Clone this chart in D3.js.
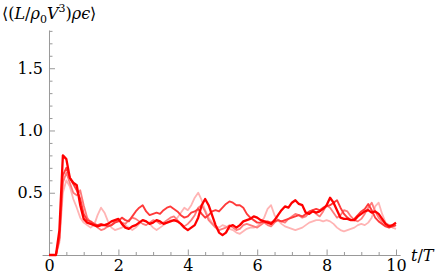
<!DOCTYPE html>
<html>
<head>
<meta charset="utf-8">
<script src="https://cdn.jsdelivr.net/npm/d3@7"></script>
<style>
  body { margin: 0; background: #fff; }
</style>
</head>
<body>
<div id="chart"></div>
<script>
// time samples t/T, step 0.1 from 0 to 10
const times = d3.range(0, 101).map(i => i / 10);

// four runs, brightest first
const runA = [0,0,0,0.20,0.80,0.77,0.62,0.58,0.56,0.40,
  0.29,0.26,0.25,0.24,0.23,0.24,0.24,0.25,0.27,0.28,
  0.29,0.25,0.22,0.21,0.23,0.24,0.26,0.28,0.27,0.25,
  0.26,0.28,0.27,0.25,0.26,0.27,0.28,0.27,0.25,0.22,
  0.20,0.22,0.24,0.30,0.40,0.45,0.40,0.32,0.24,0.18,
  0.16,0.18,0.23,0.24,0.22,0.24,0.27,0.28,0.29,0.31,
  0.30,0.28,0.27,0.26,0.25,0.28,0.32,0.36,0.39,0.38,
  0.42,0.44,0.41,0.40,0.34,0.33,0.35,0.34,0.35,0.37,
  0.40,0.46,0.42,0.36,0.30,0.29,0.29,0.28,0.28,0.31,
  0.33,0.35,0.36,0.34,0.35,0.33,0.29,0.25,0.23,0.24,0.26];
const runB = [0,0,0,0.14,0.64,0.70,0.62,0.57,0.52,0.45,
  0.33,0.28,0.27,0.25,0.24,0.25,0.24,0.23,0.24,0.26,
  0.27,0.30,0.28,0.27,0.31,0.35,0.38,0.40,0.35,0.32,
  0.33,0.34,0.33,0.36,0.38,0.39,0.37,0.35,0.32,0.30,
  0.31,0.34,0.35,0.37,0.33,0.30,0.32,0.35,0.36,0.35,
  0.38,0.41,0.43,0.42,0.40,0.40,0.38,0.33,0.30,0.28,
  0.26,0.26,0.27,0.27,0.26,0.27,0.28,0.27,0.28,0.29,
  0.30,0.31,0.32,0.31,0.33,0.35,0.36,0.37,0.36,0.38,
  0.39,0.40,0.42,0.44,0.38,0.33,0.30,0.28,0.29,0.32,
  0.35,0.37,0.41,0.36,0.30,0.27,0.25,0.23,0.22,0.23,0.24];
const runC = [0,0,0,0.12,0.58,0.66,0.58,0.50,0.48,0.52,
  0.40,0.30,0.26,0.24,0.22,0.20,0.21,0.23,0.24,0.27,
  0.28,0.26,0.25,0.28,0.30,0.29,0.27,0.25,0.24,0.26,
  0.28,0.27,0.25,0.26,0.28,0.30,0.31,0.28,0.25,0.23,
  0.25,0.28,0.32,0.38,0.40,0.35,0.28,0.25,0.22,0.20,
  0.21,0.22,0.24,0.22,0.20,0.21,0.24,0.25,0.24,0.23,
  0.22,0.24,0.26,0.24,0.23,0.26,0.28,0.27,0.26,0.29,
  0.31,0.33,0.32,0.30,0.31,0.34,0.36,0.33,0.31,0.35,
  0.40,0.38,0.34,0.30,0.32,0.36,0.35,0.31,0.28,0.27,
  0.29,0.33,0.38,0.42,0.35,0.30,0.27,0.25,0.24,0.23,0.24];
const runD = [0,0,0,0.10,0.50,0.60,0.55,0.45,0.38,0.30,
  0.26,0.24,0.22,0.24,0.32,0.38,0.34,0.27,0.22,0.20,
  0.21,0.22,0.24,0.22,0.20,0.22,0.25,0.28,0.27,0.25,
  0.22,0.20,0.22,0.24,0.26,0.28,0.27,0.30,0.34,0.38,
  0.36,0.40,0.46,0.50,0.44,0.36,0.30,0.26,0.23,0.22,
  0.24,0.23,0.21,0.20,0.18,0.17,0.19,0.21,0.22,0.22,
  0.23,0.26,0.30,0.37,0.40,0.32,0.28,0.25,0.23,0.22,
  0.21,0.20,0.21,0.22,0.24,0.26,0.27,0.28,0.28,0.27,
  0.28,0.27,0.25,0.22,0.20,0.19,0.20,0.21,0.22,0.24,
  0.25,0.24,0.26,0.30,0.39,0.42,0.33,0.26,0.24,0.22,0.21];

const xTicks = [0, 2, 4, 6, 8, 10];
const yTicks = [0.5, 1.0, 1.5];

const runs = [
  {values: runD, color: "#ffb4b4", width: 1.8},
  {values: runC, color: "#ff7a7a", width: 1.8},
  {values: runB, color: "#ff3a3a", width: 1.9},
  {values: runA, color: "#ff0000", width: 2.3}
];

const W = 436, H = 276;
const serif = "DejaVu Serif";
const svg = d3.select("#chart").append("svg")
  .attr("width", W).attr("height", H);

// scales (axes cross at origin, a little overshoot on the left like Mathematica)
const x = d3.scaleLinear().domain([-0.2, 10.12]).range([42.06, 400.16]);
const y = d3.scaleLinear().domain([0, 1.807]).range([255, 30]);

const axisColor = "#999";

// minor ticks
const xMinor = d3.range(0.5, 10.01, 0.5).filter(v => Math.abs(v % 2) > 1e-6);
const yMinor = d3.range(1, 19).map(i => i / 10).filter(v => Math.abs((v * 10) % 5) > 1e-6);

svg.append("g")
  .attr("transform", "translate(0," + y(0) + ")")
  .call(d3.axisBottom(x).tickValues(xMinor).tickSize(-3).tickFormat(""))
  .call(g => g.select(".domain").remove());
svg.append("g")
  .attr("transform", "translate(" + x(0) + ",0)")
  .call(d3.axisLeft(y).tickValues(yMinor).tickSize(-3.5).tickFormat(""))
  .call(g => g.select(".domain").remove());

// major axes
svg.append("g")
  .attr("transform", "translate(0," + y(0) + ")")
  .attr("class", "xAxisG")
  .call(d3.axisBottom(x).tickValues(xTicks).tickSize(-5.5).tickSizeOuter(0).tickPadding(5)
    .tickFormat(d3.format("d")));
svg.append("g")
  .attr("transform", "translate(" + x(0) + ",0)")
  .attr("class", "yAxisG")
  .call(d3.axisLeft(y).tickValues(yTicks).tickSize(-6).tickSizeOuter(0).tickPadding(6)
    .tickFormat(d3.format(".1f")));

svg.selectAll(".domain").attr("stroke", axisColor).attr("stroke-width", 1);
svg.selectAll(".tick line").attr("stroke", axisColor).attr("stroke-width", 1);
svg.selectAll(".xAxisG, .yAxisG").attr("font-family", serif).attr("font-size", 16);
svg.selectAll(".tick text").attr("fill", "#000");

// curves
const line = d3.line()
  .x((d, i) => x(times[i]))
  .y(d => y(d));

svg.append("g").selectAll("path")
  .data(runs)
  .join("path")
  .attr("d", r => line(r.values))
  .attr("fill", "none")
  .attr("stroke", r => r.color)
  .attr("stroke-width", r => r.width)
  .attr("stroke-linejoin", "round");

// y label
const yl = svg.append("text")
  .attr("x", 2).attr("y", 19)
  .attr("font-family", serif)
  .attr("font-size", 16);
yl.append("tspan").text("\u27E8(");
yl.append("tspan").attr("font-style", "italic").text("L");
yl.append("tspan").text("/");
yl.append("tspan").attr("font-style", "italic").text("\u03C1");
yl.append("tspan").attr("dy", 4).attr("font-size", 11).text("0");
yl.append("tspan").attr("dy", -4).attr("font-style", "italic").text("V");
yl.append("tspan").attr("dy", -7).attr("font-size", 11).text("3");
yl.append("tspan").attr("dy", 7).text(")");
yl.append("tspan").attr("font-style", "italic").text("\u03C1\u03F5");
yl.append("tspan").text("\u27E9");

// x label
const xl = svg.append("text")
  .attr("x", 411).attr("y", 261)
  .attr("font-family", serif)
  .attr("font-size", 16);
xl.append("tspan").attr("font-style", "italic").text("t");
xl.append("tspan").text("/");
xl.append("tspan").attr("font-style", "italic").text("T");
</script>
</body>
</html>
